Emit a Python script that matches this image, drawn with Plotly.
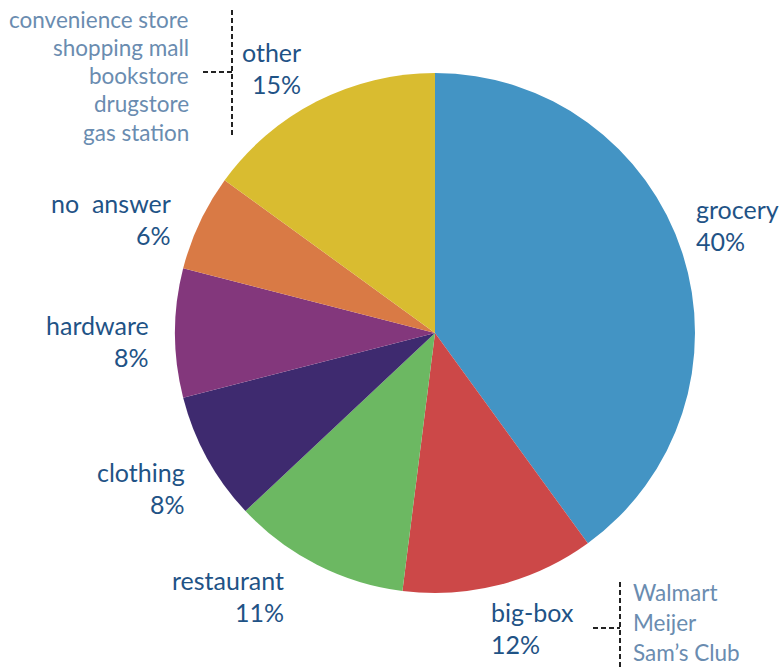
import plotly.graph_objects as go

# Where people shop: share of responses by store type
categories = ["grocery", "big-box", "restaurant", "clothing", "hardware", "no  answer", "other"]
shares = [40, 12, 11, 8, 8, 6, 15]
colors = ["#4394c4", "#cc4848", "#6cb862", "#3e2a6f", "#83377c", "#d97a45", "#d9bc30"]

other_notes = ["convenience store", "shopping mall", "bookstore", "drugstore", "gas station"]
bigbox_notes = ["Walmart", "Meijer", "Sam\u2019s Club"]

W, H = 779, 667
LABEL_COLOR = "#1f5386"
NOTE_COLOR = "#6a8cb0"
FONT = "Source Sans Pro, Lato, Noto Sans, sans-serif"

cx, cy, r = 435, 333, 260

fig = go.Figure(go.Pie(
    labels=categories,
    values=shares,
    marker=dict(colors=colors, line=dict(width=0)),
    sort=False,
    direction="clockwise",
    rotation=0,
    textinfo="none",
    hoverinfo="label+percent",
    domain=dict(x=[(cx - r) / W, (cx + r) / W], y=[1 - (cy + r) / H, 1 - (cy - r) / H]),
))

def px(x):
    return x / W

def py(y):
    return 1 - y / H

# label anchor: (x, y of first line, alignment)
label_pos = {
    "grocery": (694, 209, "left"),
    "big-box": (489, 612, "left"),
    "restaurant": (286, 580, "right"),
    "clothing": (187, 472, "right"),
    "hardware": (151, 325, "right"),
    "no  answer": (173, 203, "right"),
    "other": (303, 52, "right"),
}

annotations = []
for name, val in zip(categories, shares):
    x, y, al = label_pos[name]
    for i, line in enumerate([name, f"{val}%"]):
        annotations.append(dict(
            x=px(x), y=py(y + 32 * i), xref="paper", yref="paper",
            text=line, showarrow=False, xanchor=al, yanchor="middle",
            font=dict(family=FONT, size=25, color=LABEL_COLOR),
        ))

for i, note in enumerate(other_notes):
    annotations.append(dict(
        x=px(191), y=py(19 + 28.3 * i), xref="paper", yref="paper",
        text=note, showarrow=False, xanchor="right", yanchor="middle",
        font=dict(family=FONT, size=22.5, color=NOTE_COLOR),
    ))

for i, note in enumerate(bigbox_notes):
    annotations.append(dict(
        x=px(631), y=py(592 + 30 * i), xref="paper", yref="paper",
        text=note, showarrow=False, xanchor="left", yanchor="middle",
        font=dict(family=FONT, size=22.5, color=NOTE_COLOR),
    ))

dash = dict(color="#222222", width=2, dash="5px,3px")
shapes = [
    dict(type="line", xref="paper", yref="paper", x0=px(232), x1=px(232), y0=py(10), y1=py(137), line=dash),
    dict(type="line", xref="paper", yref="paper", x0=px(203), x1=px(232), y0=py(72), y1=py(72), line=dash),
    dict(type="line", xref="paper", yref="paper", x0=px(620), x1=px(620), y0=py(582), y1=py(667), line=dash),
    dict(type="line", xref="paper", yref="paper", x0=px(593), x1=px(620), y0=py(628), y1=py(628), line=dash),
]

fig.update_layout(
    width=W, height=H,
    margin=dict(l=0, r=0, t=0, b=0),
    paper_bgcolor="white", plot_bgcolor="white",
    showlegend=False,
    annotations=annotations,
    shapes=shapes,
)

fig.write_html("out.html")
